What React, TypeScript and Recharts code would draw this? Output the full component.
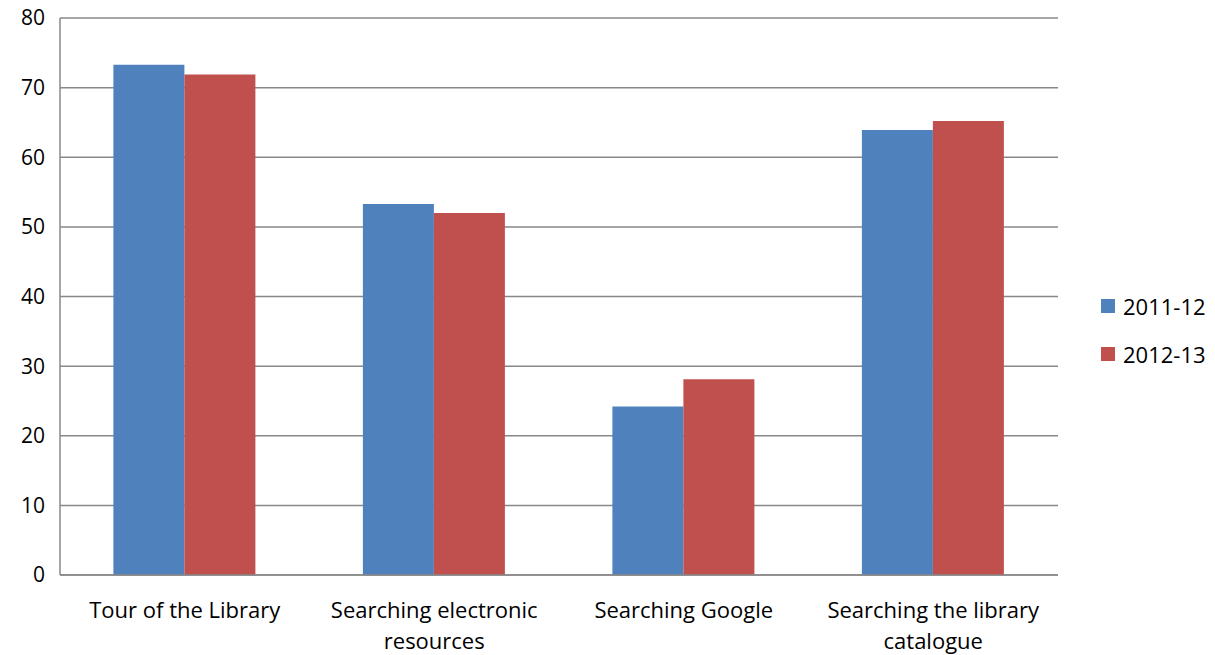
import React from 'react';
import { BarChart, Bar, XAxis, YAxis, CartesianGrid } from 'recharts';

const categories = ['Tour of the Library', 'Searching electronic resources', 'Searching Google', 'Searching the library catalogue'];
const series2011 = [73.3, 53.3, 24.2, 63.9];
const series2012 = [71.9, 52.0, 28.1, 65.2];
const yTicks = [0, 10, 20, 30, 40, 50, 60, 70, 80];

const SERIES = [
  { key: 'y2011', name: '2011-12', color: '#4F81BD' },
  { key: 'y2012', name: '2012-13', color: '#C0504D' },
];

const data = categories.map((name, i) => ({ name, y2011: series2011[i], y2012: series2012[i] }));

const FONT = '"Open Sans", Lato, sans-serif';

// split a label into lines that fit the category slot
const wrapLabel = (label: string, maxChars: number) => {
  const lines: string[] = [];
  let cur = '';
  label.split(' ').forEach(w => {
    const next = cur ? `${cur} ${w}` : w;
    if (next.length > maxChars && cur) {
      lines.push(cur);
      cur = w;
    } else {
      cur = next;
    }
  });
  if (cur) lines.push(cur);
  return lines;
};

const CategoryTick = ({ x, y, payload }: any) => {
  const lines = wrapLabel(payload.value, 21);
  return (
    <text x={x} y={y} textAnchor="middle" fill="#000" fontSize={22} fontFamily={FONT}>
      {lines.map((l, i) => (
        <tspan key={i} x={x} dy={i === 0 ? 35 : 31}>{l}</tspan>
      ))}
    </text>
  );
};

const LegendBox = () => (
  <div style={{ position: 'absolute', left: 1101, top: 293, fontFamily: FONT, fontSize: 22, color: '#000' }}>
    {SERIES.map((s, i) => (
      <div key={s.key} style={{ display: 'flex', alignItems: 'center', height: 26, marginBottom: i === 0 ? 22 : 0 }}>
        <span style={{ width: 14, height: 14, background: s.color, display: 'inline-block', marginRight: 8 }} />
        <span>{s.name}</span>
      </div>
    ))}
  </div>
);

export default function App() {
  return (
    <div style={{ position: 'absolute', left: 0, top: 0, width: 1215, height: 655, background: '#fff' }}>
      <BarChart
        width={1215}
        height={655}
        data={data}
        margin={{ top: 18, right: 157, left: 0, bottom: 50 }}
        barCategoryGap="21.4%"
        barGap={0}
      >
        <CartesianGrid vertical={false} stroke="#888" strokeWidth={1.5} />
        <XAxis
          dataKey="name"
          height={30}
          axisLine={{ stroke: '#888', strokeWidth: 1.5 }}
          tickLine={false}
          tick={<CategoryTick />}
          interval={0}
        />
        <YAxis
          width={60}
          domain={[0, 80]}
          ticks={yTicks}
          axisLine={{ stroke: '#888', strokeWidth: 1.5 }}
          tickLine={false}
          tickMargin={9}
          tick={{ fill: '#000', fontSize: 21, fontFamily: FONT }}
        />
        {SERIES.map(s => (
          <Bar key={s.key} dataKey={s.key} name={s.name} fill={s.color} isAnimationActive={false} />
        ))}
      </BarChart>
      <LegendBox />
    </div>
  );
}
